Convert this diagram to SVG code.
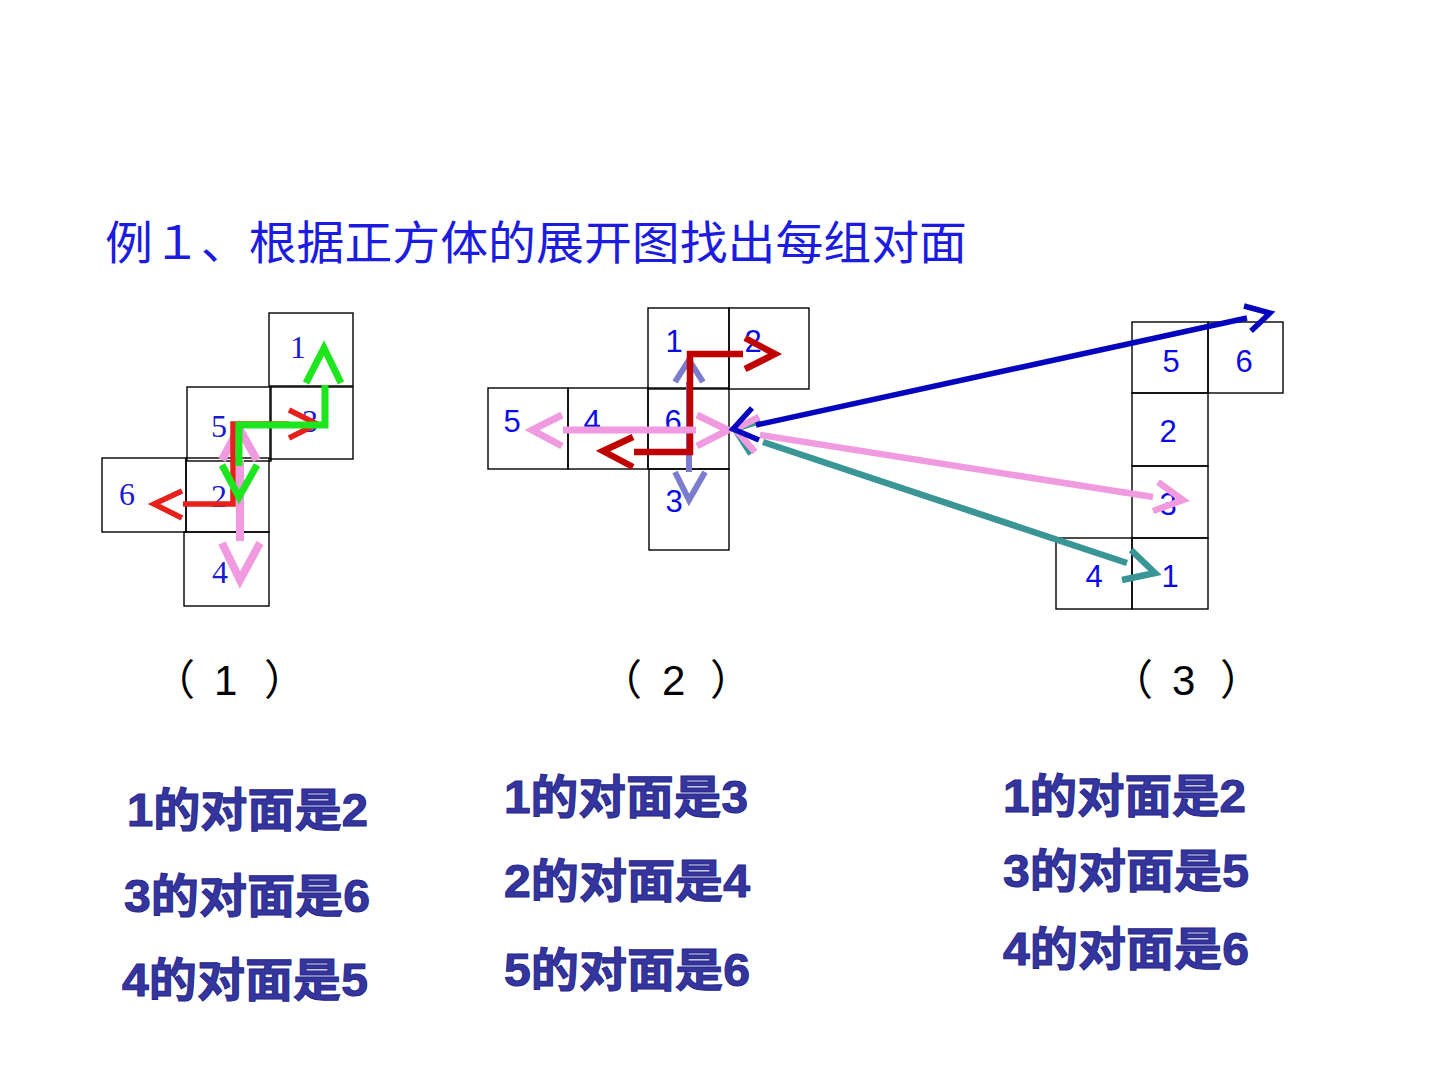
<svg xmlns="http://www.w3.org/2000/svg" width="1440" height="1080" viewBox="0 0 1440 1080">
<style>
.face rect{fill:none;stroke:#000;stroke-width:1.4}
.n1{font-family:"Liberation Serif",serif;font-size:32px;fill:#1a1ad0;text-anchor:middle}
.n2{font-family:"Liberation Sans",sans-serif;font-size:31px;fill:#0a0ae6;text-anchor:middle}
.title{font-family:"Noto Sans CJK SC",sans-serif;font-size:46px;fill:#1c1ce0}
.cap{font-family:"Liberation Sans","Noto Sans CJK SC",sans-serif;font-size:42px;fill:#000}
.ans{font-family:"Liberation Sans","Noto Sans CJK SC",sans-serif;font-size:46px;font-weight:bold;fill:#35359e;stroke:#26268c;stroke-width:1}
.c polyline,.c path{fill:none;stroke-linejoin:miter;stroke-linecap:butt}
.red1{stroke:#e6201a;stroke-width:5.5}
.green{stroke:#1ee61e;stroke-width:7}
.pink{stroke:#f09be0;stroke-width:8}
.pink2{stroke:#f09be0;stroke-width:6.5}
.dred{stroke:#c00000;stroke-width:6.5}
.gblue{stroke:#7b7bcf;stroke-width:6}
.blue{stroke:#0505be;stroke-width:5.5}
.teal{stroke:#3a9696;stroke-width:6.5}
</style>

<text class="title" x="105" y="259" textLength="862" lengthAdjust="spacingAndGlyphs">例１、根据正方体的展开图找出每组对面</text>

<!-- Net 1 -->
<g id="net1">
<g id="n1-f1" class="face"><rect x="269" y="313" width="84" height="73"/><text class="n1" x="298" y="358">1</text></g>
<g id="n1-f3" class="face"><rect x="270" y="387" width="83" height="72"/><text class="n1" x="310" y="432">3</text></g>
<g id="n1-f5" class="face"><rect x="187" y="387" width="84" height="74"/><text class="n1" x="219" y="437">5</text></g>
<g id="n1-f6" class="face"><rect x="102" y="458" width="84" height="74"/><text class="n1" x="127" y="505">6</text></g>
<g id="n1-f2" class="face"><rect x="186" y="458" width="83" height="74"/><text class="n1" x="219" y="507">2</text></g>
<g id="n1-f4" class="face"><rect x="184" y="532" width="85" height="74"/><text class="n1" x="220" y="583">4</text></g>
</g>

<!-- Net 2 -->
<g id="net2">
<g id="n2-f1" class="face"><rect x="648" y="308" width="81" height="81"/><text class="n2" x="674" y="352">1</text></g>
<g id="n2-f2" class="face"><rect x="729" y="308" width="80" height="81"/><text class="n2" x="753" y="352">2</text></g>
<g id="n2-f5" class="face"><rect x="488" y="388" width="80" height="81"/><text class="n2" x="512" y="432">5</text></g>
<g id="n2-f4" class="face"><rect x="568" y="388" width="80" height="81"/><text class="n2" x="592" y="432">4</text></g>
<g id="n2-f6" class="face"><rect x="648" y="388" width="81" height="81"/><text class="n2" x="673" y="432">6</text></g>
<g id="n2-f3" class="face"><rect x="649" y="469" width="80" height="81"/><text class="n2" x="674" y="512">3</text></g>
</g>

<!-- Net 3 -->
<g id="net3">
<g id="n3-f5" class="face"><rect x="1132" y="322" width="76" height="71"/><text class="n2" x="1171" y="372">5</text></g>
<g id="n3-f6" class="face"><rect x="1208" y="322" width="75" height="71"/><text class="n2" x="1244" y="372">6</text></g>
<g id="n3-f2" class="face"><rect x="1132" y="393" width="76" height="73"/><text class="n2" x="1168" y="442">2</text></g>
<g id="n3-f3" class="face"><rect x="1132" y="466" width="76" height="72"/><text class="n2" x="1168" y="515">3</text></g>
<g id="n3-f4" class="face"><rect x="1056" y="538" width="76" height="71"/><text class="n2" x="1094" y="587">4</text></g>
<g id="n3-f1" class="face"><rect x="1132" y="538" width="76" height="71"/><text class="n2" x="1170" y="587">1</text></g>
</g>

<!-- Connectors -->
<g id="connectors" class="c">
  <!-- net 1 -->
  <g class="pink">
    <path d="M240,460 V541"/>
    <polyline points="222,460 239,428 257,460"/>
    <polyline points="222,543 240,580 260,543"/>
  </g>
  <g class="red1">
    <path d="M289,424 H233 V504 H183"/>
    <polyline points="182,491 154,504 182,518"/>
    <polyline points="289,410 317,424 289,438"/>
  </g>
  <g class="green">
    <path d="M239,466 V425 H325 V385"/>
    <polyline points="306,383 324,348 341,383"/>
    <polyline points="222,465 239,497 257,465"/>
  </g>
  <!-- net 2 -->
  <g class="gblue">
    <path d="M689,382 V472"/>
    <polyline points="675,382 689,360 703,382"/>
    <polyline points="675,472 689,500 705,472"/>
  </g>
  <g class="dred">
    <path d="M743,354 H690 V452 H634"/>
    <polyline points="745,338 775,354 745,369"/>
    <polyline points="633,437 603,451 633,467"/>
  </g>
  <g class="pink2" style="stroke-width:7">
    <path d="M563,430 H696"/>
    <polyline points="562,415 532,430 562,446"/>
    <polyline points="697,415 728,430 697,446"/>
  </g>
  <!-- long connectors to net 3 -->
  <g class="teal">
    <path d="M763,442 L1127,563"/>
    <polyline points="760,421 735,429 751,454"/>
    <polyline points="1131,550 1155,573 1122,580"/>
  </g>
  <g class="pink2">
    <path d="M760,435 L1153,497"/>
    <polyline points="759,417 735,429 755,452"/>
    <polyline points="1158,482 1183,500 1153,511"/>
  </g>
  <g class="blue">
    <path d="M756,425 L1247,318"/>
    <polyline points="752,408 733,429 759,440"/>
    <polyline points="1244,306 1270,313 1251,331"/>
  </g>
</g>

<!-- captions -->
<text class="cap" y="695"><tspan x="153">（ </tspan><tspan x="214">1 </tspan><tspan x="264">）</tspan></text>
<text class="cap" y="695"><tspan x="600">（ </tspan><tspan x="662">2 </tspan><tspan x="710">）</tspan></text>
<text class="cap" y="695"><tspan x="1111">（ </tspan><tspan x="1172">3 </tspan><tspan x="1220">）</tspan></text>

<!-- answers -->
<g id="answers">
<text class="ans" x="127" y="826" textLength="241" lengthAdjust="spacingAndGlyphs">1的对面是2</text>
<text class="ans" x="124" y="912" textLength="246" lengthAdjust="spacingAndGlyphs">3的对面是6</text>
<text class="ans" x="122" y="996" textLength="246" lengthAdjust="spacingAndGlyphs">4的对面是5</text>
<text class="ans" x="504" y="813" textLength="244" lengthAdjust="spacingAndGlyphs">1的对面是3</text>
<text class="ans" x="504" y="897" textLength="246" lengthAdjust="spacingAndGlyphs">2的对面是4</text>
<text class="ans" x="504" y="986" textLength="246" lengthAdjust="spacingAndGlyphs">5的对面是6</text>
<text class="ans" x="1003" y="812" textLength="243" lengthAdjust="spacingAndGlyphs">1的对面是2</text>
<text class="ans" x="1003" y="887" textLength="246" lengthAdjust="spacingAndGlyphs">3的对面是5</text>
<text class="ans" x="1003" y="965" textLength="246" lengthAdjust="spacingAndGlyphs">4的对面是6</text>
</g>
</svg>
